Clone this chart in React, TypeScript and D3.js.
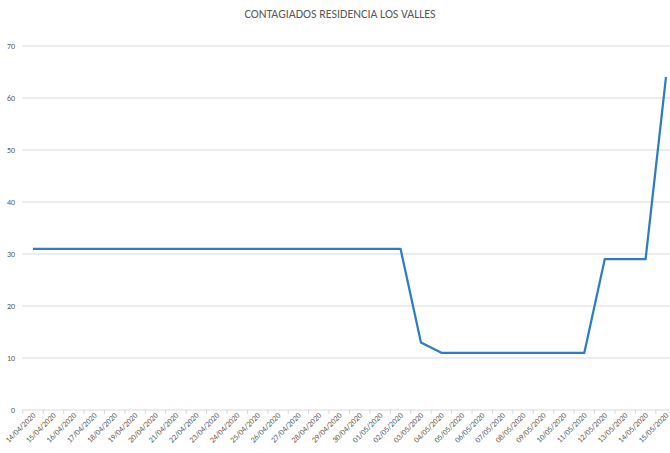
import React from "react";
import * as d3 from "d3";

const dates = [
  "14/04/2020","15/04/2020","16/04/2020","17/04/2020","18/04/2020","19/04/2020","20/04/2020","21/04/2020",
  "22/04/2020","23/04/2020","24/04/2020","25/04/2020","26/04/2020","27/04/2020","28/04/2020","29/04/2020",
  "30/04/2020","01/05/2020","02/05/2020","03/05/2020","04/05/2020","05/05/2020","06/05/2020","07/05/2020",
  "08/05/2020","09/05/2020","10/05/2020","11/05/2020","12/05/2020","13/05/2020","14/05/2020","15/05/2020",
];
const contagiados = [
  31,31,31,31,31,31,31,31,31,31,31,31,31,31,31,31,31,31,31,
  13,11,11,11,11,11,11,11,11,29,29,29,64,
];
const yTicks = [0,10,20,30,40,50,60,70];
const title = "CONTAGIADOS RESIDENCIA LOS VALLES";

const W = 670, H = 453;
const left = 22.8, right = 676.2, top = 46, bottom = 410;

export default function App() {
  const x = d3.scaleBand<string>().domain(dates).range([left, right]).padding(0);
  const y = d3.scaleLinear().domain([0, 70]).range([bottom, top]);
  const cx = (d: string) => (x(d) as number) + x.bandwidth() / 2;
  const line = d3.line<number>().x((_, i) => cx(dates[i])).y((v) => y(v));
  const font = "Carlito, 'Liberation Sans', 'Open Sans', sans-serif";
  return (
    <svg width={W} height={H} style={{ position: "absolute", left: 0, top: 0, background: "#fff" }} fontFamily={font}>
      <text x={340} y={18} textAnchor="middle" fontSize={12} fill="#595959">{title}</text>
      {yTicks.map((t) => (
        <g key={t}>
          {t > 0 && <line x1={22} x2={670} y1={y(t)} y2={y(t)} stroke="#d9d9d9" strokeWidth={1} />}
          <text x={15} y={y(t) + 3} textAnchor="end" fontSize={8} fill="#595959">{t}</text>
        </g>
      ))}
      <line x1={22} x2={670} y1={bottom} y2={bottom} stroke="#d9d9d9" strokeWidth={1} />
      {dates.map((d) => (
        <line key={"t" + d} x1={x(d) as number} x2={x(d) as number} y1={bottom} y2={bottom + 4} stroke="#d9d9d9" />
      ))}
      {dates.map((d) => (
        <text key={d} transform={`translate(${cx(d) + 3},${bottom + 6}) rotate(-45)`} textAnchor="end" fontSize={8} fill="#595959">{d}</text>
      ))}
      <path d={line(contagiados) || ""} fill="none" stroke="#2E7CC4" strokeWidth={2.25} strokeLinejoin="round" />
    </svg>
  );
}
